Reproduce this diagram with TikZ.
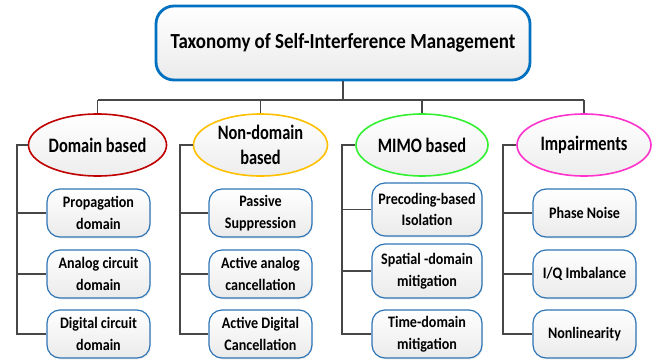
\documentclass[tikz,border=0pt]{standalone}
\usepackage{fontspec}
\setmainfont{Carlito}[FakeStretch=0.88]
\newfontfamily\ellfont{Carlito}[FakeStretch=0.8]
\usetikzlibrary{shapes.geometric,shadows}
\definecolor{titleblue}{RGB}{0,112,192}
\definecolor{leafblue}{RGB}{46,117,182}
\definecolor{dred}{RGB}{192,0,0}
\definecolor{dorange}{RGB}{255,192,0}
\definecolor{dgreen}{RGB}{51,240,51}
\definecolor{dmag}{RGB}{255,51,204}
\tikzset{
  conn/.style={draw=black!72, line width=1.2pt},
  titlebox/.style={rectangle, rounded corners=18pt, draw=titleblue, line width=2.8pt,
    top color=white, bottom color=black!8, minimum width=374pt, minimum height=74pt,
    inner sep=0pt, font=\bfseries\fontsize{21.5}{25}\selectfont},
  catell/.style={ellipse, line width=1.6pt, top color=white, bottom color=black!7,
    minimum width=134pt, minimum height=62pt, inner sep=0pt, align=center,
    font=\ellfont\bfseries\fontsize{20.5}{25}\selectfont},
  leaf/.style={rectangle, rounded corners=13pt, draw=leafblue, line width=1.2pt,
    top color=white, bottom color=black!8, minimum width=103pt, minimum height=48pt,
    inner sep=0pt, align=center, font=\bfseries\fontsize{16}{21.5}\selectfont,
    drop shadow={opacity=0.12, shadow xshift=1pt, shadow yshift=-1.5pt}}
}
\begin{document}
\begin{tikzpicture}[x=1pt,y=-1pt]
\useasboundingbox (0,0) rectangle (658,361);
\node[titlebox] (title) at (343,43) {Taxonomy of Self-Interference Management};
\coordinate (bus) at (343,100);

\node[catell, draw=dred] (c1) at (97.5,145) {Domain based};
\node[catell, draw=dorange] (c2) at (260.5,145) {Non-domain\\based};
\node[catell, draw=dgreen, minimum width=132pt] (c3) at (422,145) {MIMO based};
\node[catell, draw=dmag] (c4) at (584,145) {Impairments};

\node[leaf] (l11) at (98.5,213) {Propagation\\domain};
\node[leaf] (l12) at (98.5,274) {Analog circuit\\domain};
\node[leaf] (l13) at (98.5,334) {Digital circuit\\domain};

\node[leaf] (l21) at (260.5,213) {Passive\\Suppression};
\node[leaf] (l22) at (260.5,274) {Active analog\\cancellation};
\node[leaf] (l23) at (260.5,334) {Active Digital\\Cancellation};

\node[leaf, minimum width=110pt, minimum height=53pt] (l31) at (427,209.5) {Precoding-based\\Isolation};
\node[leaf, minimum width=110pt, minimum height=54pt] (l32) at (427,271) {Spatial -domain\\mitigation};
\node[leaf, minimum width=110pt] (l33) at (427,334) {Time-domain\\mitigation};

\node[leaf] (l41) at (584.5,213) {Phase Noise};
\node[leaf] (l42) at (584.5,274) {I/Q Imbalance};
\node[leaf] (l43) at (584.5,334) {Nonlinearity};

\coordinate (v1) at (17,0);
\coordinate (v2) at (180,0);
\coordinate (v3) at (342,0);
\coordinate (v4) at (503,0);

% bus
\draw[conn] (title.south) -- (bus);
\draw[conn] (c1.north |- bus) -- (c4.north |- bus);
\foreach \c in {c1,c2,c3,c4} \draw[conn] (\c.north |- bus) -- (\c.north);

% columns
\foreach \c/\v/\a/\b/\d in {c1/v1/l11/l12/l13, c2/v2/l21/l22/l23, c3/v3/l31/l32/l33, c4/v4/l41/l42/l43}{
  \draw[conn] (\c.west) -| (\v |- \d.west) -- (\d.west);
  \draw[conn] (\v |- \a.west) -- (\a.west);
  \draw[conn] (\v |- \b.west) -- (\b.west);
}
\end{tikzpicture}
\end{document}
